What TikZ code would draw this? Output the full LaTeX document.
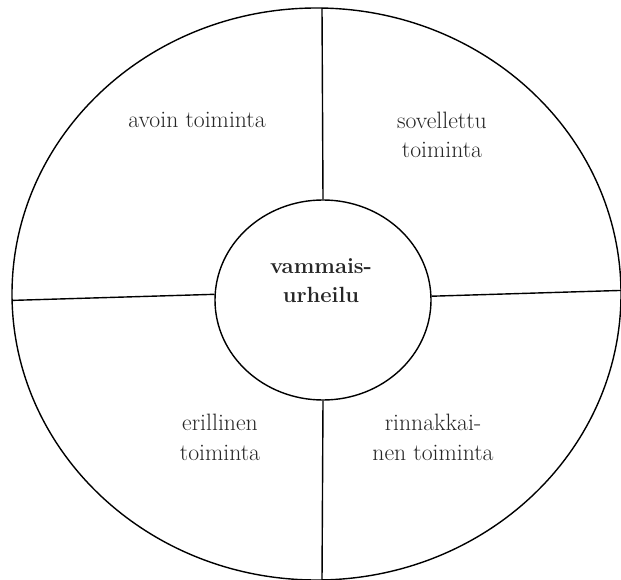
\documentclass[tikz,border=0pt]{standalone}
\usetikzlibrary{shapes.geometric}
\begin{document}
\begin{tikzpicture}[x=1pt,y=-1pt,
  ring/.style={draw=black,line width=1.4pt,ellipse,inner sep=0pt},
  divider/.style={draw=black,line width=1.4pt},
  lbl/.style={align=center,font=\fontsize{23.7}{29.8}\selectfont,text=black!85,anchor=base},
  hub/.style={align=center,font=\fontsize{22}{29.5}\selectfont\bfseries,text=black!85,anchor=base}]
\useasboundingbox (0,0) rectangle (621,580);
\begin{scope}
\clip (0,0) rectangle (621,580);
\node[ring,minimum width=609pt,minimum height=572pt] (outer) at (316.5,294) {};
\node[ring,minimum width=216pt,minimum height=200pt] (inner) at (323,300) {};
\coordinate (otop) at (322,8);
\coordinate (obot) at (322,581);
\coordinate (oleft) at (12,300.4);
\coordinate (oright) at (622,290.4);
\draw[divider] (otop) -- (inner.north);
\draw[divider] (inner.south) -- (obot);
\draw[divider] (oleft) -- (inner.177.9);
\draw[divider] (inner.2.6) -- (oright);
\end{scope}
\node[hub] (hubtext) at (321,302.6) {vammais-\\urheilu};
\node[lbl] (avoin) at (197,127.6) {avoin toiminta};
\node[lbl] (sovel) at (442,158) {sovellettu\\toiminta};
\node[lbl] (eril) at (220,460) {erillinen\\toiminta};
\node[lbl] (rinn) at (433,460) {rinnakkai-\\nen toiminta};
\end{tikzpicture}
\end{document}
